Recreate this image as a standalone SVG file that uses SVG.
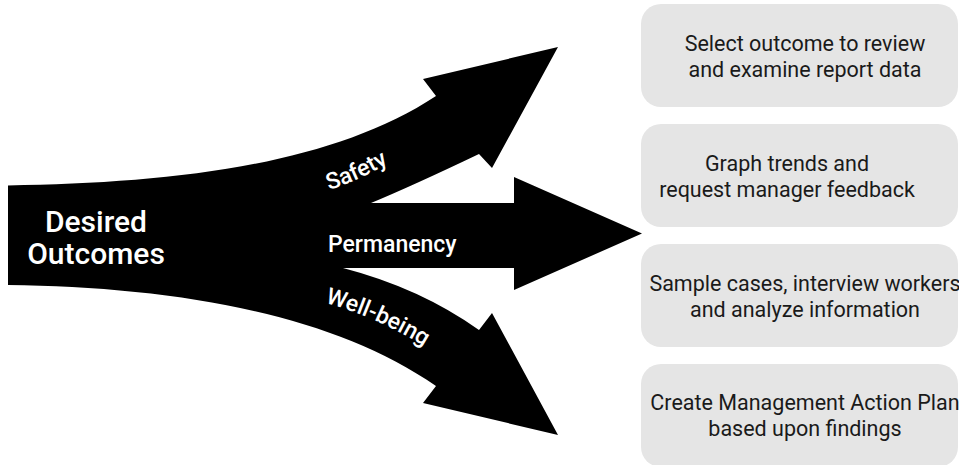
<svg xmlns="http://www.w3.org/2000/svg" width="959" height="465" viewBox="0 0 959 465">
  <style>
    .box { fill: #e5e5e5; }
    .boxtext { font-family: Roboto, "Liberation Sans", sans-serif; font-size: 21.5px; fill: #1a1a1a; text-anchor: middle; }
    .lbl { font-family: Roboto, "Liberation Sans", sans-serif; font-weight: 500; fill: #ffffff; }
    .arrow { fill: #000000; }
  </style>
  <defs>
    <path id="safetyPath" d="M 329 190 Q 362 180 400 156"/>
    <path id="wellPath" d="M 325 303 Q 382 318 440 356"/>
  </defs>
  <rect width="959" height="465" fill="#ffffff"/>

  <g id="connectors">
    <path class="arrow" d="M 8 185.5 C 170 183, 330 166, 436 96 L 423 79 L 558 47 L 492 168 L 479 154 Q 412 186, 371 203 L 514 203 L 514 177 L 642 233.5 L 514 290 L 514 268 L 343 268 Q 420 288, 479 330 L 492 313 L 558 435 L 423 403 L 436 386 C 330 312, 170 287, 8 285 Z"/>
  </g>

  <g id="desired-outcomes">
    <text class="lbl" font-size="30" text-anchor="middle" x="96" y="232">Desired</text>
    <text class="lbl" font-size="30" text-anchor="middle" x="96" y="264">Outcomes</text>
  </g>
  <g id="safety">
    <text class="lbl" font-size="23"><textPath href="#safetyPath">Safety</textPath></text>
  </g>
  <g id="permanency">
    <text class="lbl" font-size="23" x="328" y="252">Permanency</text>
  </g>
  <g id="well-being">
    <text class="lbl" font-size="23"><textPath href="#wellPath">Well-being</textPath></text>
  </g>

  <g id="step1">
    <rect class="box" x="641" y="4" width="317" height="103" rx="20"/>
    <text class="boxtext" x="805" y="51">Select outcome to review</text>
    <text class="boxtext" x="805" y="77">and examine report data</text>
  </g>
  <g id="step2">
    <rect class="box" x="641" y="124" width="317" height="103" rx="20"/>
    <text class="boxtext" x="787" y="171">Graph trends and</text>
    <text class="boxtext" x="787" y="197">request manager feedback</text>
  </g>
  <g id="step3">
    <rect class="box" x="641" y="244" width="317" height="103" rx="20"/>
    <text class="boxtext" x="805" y="291">Sample cases, interview workers</text>
    <text class="boxtext" x="805" y="317">and analyze information</text>
  </g>
  <g id="step4">
    <rect class="box" x="641" y="364" width="317" height="103" rx="20"/>
    <text class="boxtext" x="805" y="410">Create Management Action Plan</text>
    <text class="boxtext" x="805" y="436">based upon findings</text>
  </g>
</svg>
